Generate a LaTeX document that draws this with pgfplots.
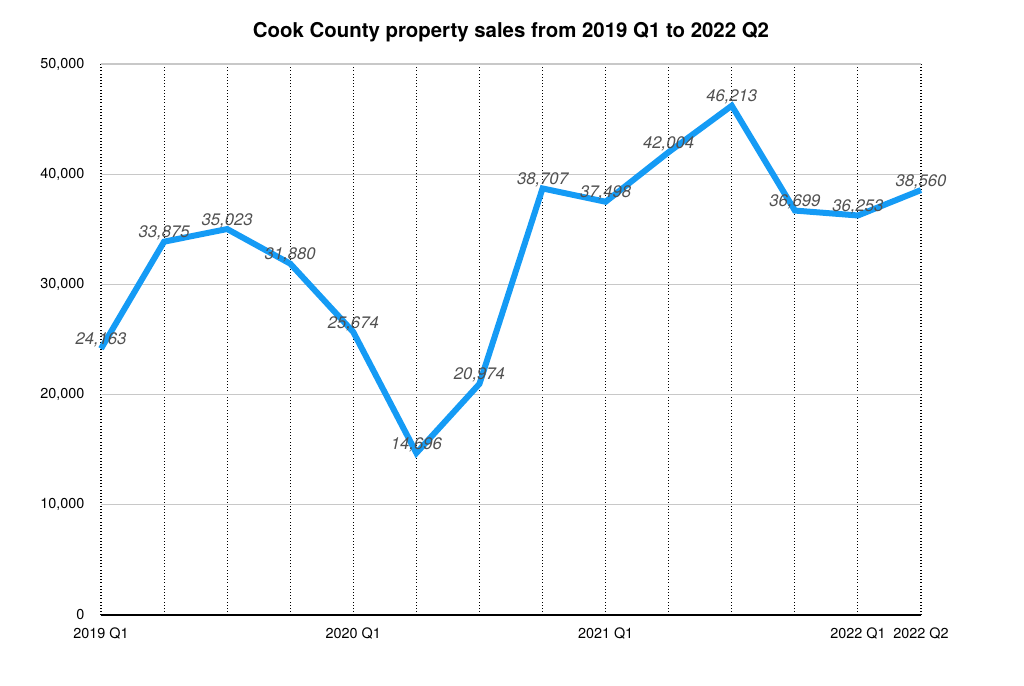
\documentclass[border=0pt]{standalone}
\usepackage{pgfplots}
\pgfplotsset{compat=1.18}
\usepackage{fontspec}
\setmainfont{TeX Gyre Heros}
\definecolor{linec}{RGB}{21,155,245}
\definecolor{labc}{RGB}{80,80,80}
\definecolor{gridc}{RGB}{200,200,200}
\pgfplotstableread{
x y
0 24163
1 33875
2 35023
3 31880
4 25674
5 14696
6 20974
7 38707
8 37498
9 42004
10 46213
11 36699
12 36253
13 38560
}\sales
\begin{document}
\begin{tikzpicture}
\begin{axis}[
  scale only axis,
  width=615pt, height=413.25pt,
  xmin=0, xmax=13, ymin=0, ymax=50000,
  axis lines=left,
  axis line style={-},
  x axis line style={line width=1.5pt, black},
  y axis line style={draw=none},
  xtick={0,...,13},
  xticklabels={2019 Q1,,,,2020 Q1,,,,2021 Q1,,,,2022 Q1,2022 Q2},
  ytick={0,10000,...,50000},
  major tick length=0pt,
  xmajorgrids, ymajorgrids,
  x grid style={black, dotted, line width=0.8pt},
  y grid style={gridc, line width=0.8pt},
  scaled y ticks=false,
  /pgf/number format/assume math mode=true,
  /pgf/number format/1000 sep={,},
  tick label style={font=\fontsize{10.8}{12}\selectfont},
  yticklabel style={anchor=east, xshift=-9pt},
  xticklabel style={anchor=north, yshift=-5.7pt},
  title={\bfseries Cook County property sales from 2019 Q1 to 2022 Q2},
  title style={at={(0.5,1)}, anchor=base, yshift=13.5pt, font=\fontsize{15.3}{17}\selectfont},
  clip=false,
]
\addplot[linec, line width=4.5pt, line join=miter, miter limit=3,
  nodes near coords,
  every node near coord/.append style={anchor=center, yshift=6.5pt, font=\fontsize{12.5}{14}\selectfont\itshape, text=labc},
] table[x=x,y=y] {\sales};
\end{axis}
\path ([xshift=-75.75pt,yshift=-53.25pt]current axis.south west) rectangle ([xshift=77.25pt,yshift=48pt]current axis.north east);
\end{tikzpicture}
\end{document}
